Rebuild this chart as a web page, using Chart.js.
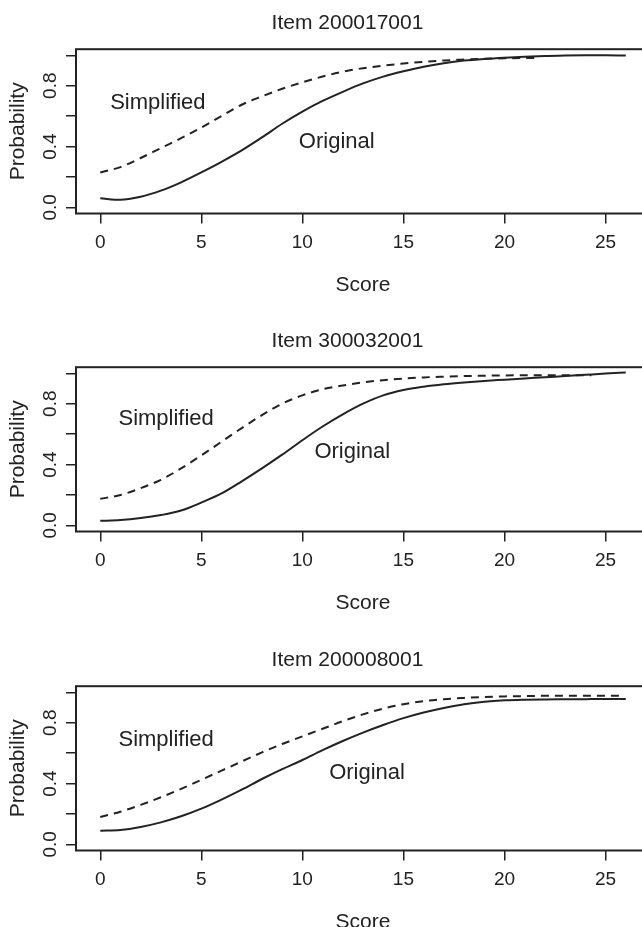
<!DOCTYPE html>
<html>
<head>
<meta charset="utf-8">
<script src="https://cdn.jsdelivr.net/npm/chart.js@4.4.1/dist/chart.umd.min.js"></script>
<style>
  html, body { margin: 0; padding: 0; background: #fff; width: 642px; height: 927px; overflow: hidden; }
  .panel { position: absolute; left: 0; width: 695px; height: 319px; }
</style>
</head>
<body>
<div class="panel" style="top:0px"><canvas id="item1"></canvas></div>
<div class="panel" style="top:318px"><canvas id="item2"></canvas></div>
<div class="panel" style="top:637px"><canvas id="item3"></canvas></div>
<script>
// score axis values
const scores = [0, 1, 2, 3, 4, 5, 6, 7, 8, 9, 10, 11, 12, 13, 14, 15, 16, 17, 18, 19, 20, 21, 22, 23, 24, 25, 26];
const scoreTicks = [0, 5, 10, 15, 20, 25];
const probTicks = [0, 0.2, 0.4, 0.6, 0.8, 1.0];
const probLabels = [0, 0.4, 0.8];

// Item 200017001
const original1 = [0.06, 0.05, 0.07, 0.11, 0.165, 0.23, 0.30, 0.375, 0.46, 0.55, 0.63, 0.70, 0.76, 0.815, 0.86, 0.895, 0.925, 0.948, 0.965, 0.976, 0.984, 0.99, 0.995, 0.999, 1.0, 1.0, 0.998];
const simpScores1 = [0, 1, 2, 3, 4, 5, 6, 7, 8, 9, 10, 11, 12, 13, 14, 15, 16, 17, 18, 19, 20, 21, 21.7];
const simplified1 = [0.23, 0.265, 0.325, 0.39, 0.455, 0.525, 0.60, 0.675, 0.73, 0.78, 0.822, 0.86, 0.892, 0.915, 0.932, 0.946, 0.957, 0.966, 0.972, 0.977, 0.98, 0.982, 0.983];

// Item 300032001
const original2 = [0.03, 0.035, 0.048, 0.068, 0.098, 0.15, 0.21, 0.29, 0.375, 0.465, 0.56, 0.65, 0.73, 0.80, 0.855, 0.89, 0.912, 0.928, 0.94, 0.95, 0.958, 0.966, 0.974, 0.982, 0.99, 0.998, 1.005];
const simpScores2 = [0, 1, 2, 3, 4, 5, 6, 7, 8, 9, 10, 11, 12, 13, 14, 15, 16, 17, 18, 19, 20, 21, 22, 23, 24.3];
const simplified2 = [0.175, 0.20, 0.245, 0.30, 0.375, 0.46, 0.55, 0.64, 0.725, 0.80, 0.855, 0.895, 0.92, 0.94, 0.955, 0.965, 0.973, 0.978, 0.982, 0.984, 0.986, 0.987, 0.987, 0.987, 0.987];

// Item 200008001
const original3 = [0.09, 0.095, 0.115, 0.145, 0.185, 0.235, 0.295, 0.36, 0.43, 0.495, 0.555, 0.62, 0.68, 0.735, 0.785, 0.83, 0.867, 0.897, 0.922, 0.938, 0.947, 0.951, 0.953, 0.954, 0.955, 0.956, 0.956];
const simpScores3 = [0, 1, 2, 3, 4, 5, 6, 7, 8, 9, 10, 11, 12, 13, 14, 15, 16, 17, 18, 19, 20, 21, 22, 23, 24, 25, 25.9];
const simplified3 = [0.18, 0.215, 0.26, 0.31, 0.365, 0.425, 0.485, 0.545, 0.605, 0.66, 0.71, 0.76, 0.81, 0.855, 0.893, 0.922, 0.942, 0.955, 0.963, 0.969, 0.973, 0.975, 0.977, 0.978, 0.978, 0.978, 0.977];

const ink = '#222';
const font = '"Liberation Sans", Arial, Helvetica, sans-serif';

const panels = [
    { id: 'item1', title: 'Item 200017001', orig: original1, sx: simpScores1, simp: simplified1,
      labels: [['Simplified', 2.85, 0.69], ['Original', 11.7, 0.433]] },
    { id: 'item2', title: 'Item 300032001', orig: original2, sx: simpScores2, simp: simplified2,
      labels: [['Simplified', 3.26, 0.70], ['Original', 12.47, 0.482]] },
    { id: 'item3', title: 'Item 200008001', orig: original3, sx: simpScores3, simp: simplified3,
      labels: [['Simplified', 3.26, 0.685], ['Original', 13.2, 0.467]] },
];

// box around the plot region, like R's box()
const framePlugin = {
    id: 'frame',
    afterDatasetsDraw(chart) {
        const a = chart.chartArea, ctx = chart.ctx;
        ctx.save();
        ctx.strokeStyle = ink;
        ctx.lineWidth = 2;
        ctx.strokeRect(a.left, a.top, a.right - a.left, a.bottom - a.top);
        ctx.restore();
    }
};

// curve labels placed in data coordinates
const curveLabels = {
    id: 'curveLabels',
    afterDraw(chart, args, opts) {
        const ctx = chart.ctx;
        ctx.save();
        ctx.fillStyle = ink;
        ctx.font = '22px ' + font;
        ctx.textAlign = 'center';
        ctx.textBaseline = 'middle';
        opts.items.forEach(([text, x, y]) => {
            ctx.fillText(text, chart.scales.x.getPixelForValue(x), chart.scales.y.getPixelForValue(y));
        });
        ctx.restore();
    }
};

panels.forEach(p => {
    new Chart(document.getElementById(p.id), {
        type: 'line',
        data: {
            datasets: [{
                label: 'Original',
                data: scores.map((s, i) => ({ x: s, y: p.orig[i] })),
                borderColor: ink,
                borderWidth: 2,
                pointRadius: 0,
                cubicInterpolationMode: 'monotone',
            }, {
                label: 'Simplified',
                data: p.sx.map((s, i) => ({ x: s, y: p.simp[i] })),
                borderColor: ink,
                borderWidth: 2,
                borderDash: [8, 6],
                pointRadius: 0,
                cubicInterpolationMode: 'monotone',
            }],
        },
        options: {
            responsive: true,
            maintainAspectRatio: false,
            animation: false,
            layout: { padding: 0 },
            plugins: {
                legend: { display: false },
                tooltip: { enabled: false },
                title: {
                    display: true,
                    text: p.title,
                    color: ink,
                    font: { family: font, size: 21, weight: 'normal' },
                    padding: { top: 11, bottom: 13 },
                },
                curveLabels: { items: p.labels },
            },
            scales: {
                x: {
                    type: 'linear',
                    min: -1.2,
                    max: 27.2,
                    afterBuildTicks: axis => { axis.ticks = scoreTicks.map(v => ({ value: v })); },
                    afterFit: axis => { axis.height = 105.5; },
                    grid: { drawOnChartArea: false, drawTicks: true, tickLength: 10, color: ink, lineWidth: 1.5 },
                    border: { display: false },
                    ticks: {
                        autoSkip: false,
                        maxRotation: 0,
                        padding: 8,
                        color: ink,
                        font: { family: font, size: 19 },
                        callback: v => String(v),
                    },
                    title: {
                        display: true,
                        text: 'Score',
                        color: ink,
                        font: { family: font, size: 21 },
                        padding: { top: 0, bottom: 21 },
                    },
                },
                y: {
                    min: -0.04,
                    max: 1.04,
                    afterBuildTicks: axis => { axis.ticks = probTicks.map(v => ({ value: v })); },
                    afterFit: axis => { axis.width = 76; },
                    grid: { drawOnChartArea: false, drawTicks: true, tickLength: 10, color: ink, lineWidth: 1.5 },
                    border: { display: false },
                    ticks: {
                        autoSkip: false,
                        minRotation: 90,
                        maxRotation: 90,
                        crossAlign: 'center',
                        padding: 2,
                        color: ink,
                        font: { family: font, size: 19 },
                        callback: v => probLabels.includes(v) ? v.toFixed(1) : '',
                    },
                    title: {
                        display: true,
                        text: 'Probability',
                        color: ink,
                        font: { family: font, size: 21 },
                        padding: { top: 6, bottom: 0 },
                    },
                },
                // empty right margin, keeps the title centred on the full figure
                margin: {
                    type: 'linear',
                    position: 'right',
                    afterFit: axis => { axis.width = 45; },
                    grid: { display: false },
                    border: { display: false },
                    ticks: { display: false },
                },
            },
        },
        plugins: [framePlugin, curveLabels],
    });
});
</script>
</body>
</html>
